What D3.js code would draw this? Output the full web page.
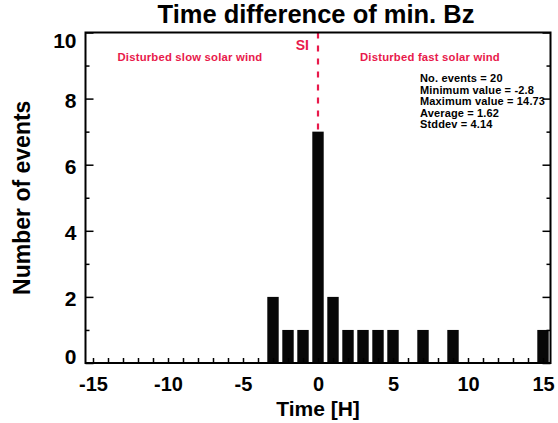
<!DOCTYPE html>
<html>
<head>
<meta charset="utf-8">
<script src="https://cdn.jsdelivr.net/npm/d3@7"></script>
<style>
  html, body { margin: 0; padding: 0; background: #fff; }
  svg { display: block; font-family: "Liberation Sans", Arial, Helvetica, sans-serif; font-weight: bold; }
</style>
</head>
<body>
<svg id="chart" width="558" height="423"></svg>
<script>
// ---- data ----
const binCenters = [-3, -2, -1, 0, 1, 2, 3, 4, 5, 7, 9, 15];
const eventCounts = [2, 1, 1, 7, 2, 1, 1, 1, 1, 1, 1, 1];
const xTickValues = [-15, -10, -5, 0, 5, 10, 15];
const xMinorTicks = d3.range(-15, 16, 1);
const yTickValues = [0, 2, 4, 6, 8, 10];
const yMinorTicks = [1, 3, 5, 7, 9];
const statsLines = ["No. events = 20", "Minimum value = -2.8", "Maximum value = 14.73", "Average = 1.62", "Stddev = 4.14"];
const titleText = "Time difference of min. Bz";
const xLabel = "Time [H]";
const yLabel = "Number of events";
const siLabel = "SI";
const slowLabel = "Disturbed slow solar wind";
const fastLabel = "Disturbed fast solar wind";
const siPosition = 0;

// ---- layout ----
const svg = d3.select("#chart");
const pLeft = 85.5, pRight = 550.5, pTop = 32.5, pBottom = 363;
const red = "#e8194b";

const x = d3.scaleLinear().domain([-15.5, 15.5]).range([pLeft, pRight]);
const y = d3.scaleLinear().domain([0, 10]).range([pBottom, pTop]);
const barW = 0.76;

// SI dashed line (behind bars)
svg.append("line")
  .attr("x1", x(siPosition)).attr("x2", x(siPosition))
  .attr("y1", y(10)).attr("y2", y(6.9))
  .attr("stroke", red).attr("stroke-width", 2.2)
  .attr("stroke-dasharray", "6,7");

// bars
svg.append("g").selectAll("rect")
  .data(binCenters.map((c, i) => ({c, v: eventCounts[i]})))
  .join("rect")
  .attr("x", d => x(d.c - barW / 2))
  .attr("width", d => x(d.c + barW / 2) - x(d.c - barW / 2))
  .attr("y", d => y(d.v))
  .attr("height", d => y(0) - y(d.v))
  .attr("fill", "#070707");

// bottom axis ticks (minor, inward)
const xAxis = d3.axisBottom(x).tickValues(xMinorTicks).tickSize(-5).tickFormat("");
const gx = svg.append("g").attr("transform", `translate(0,${pBottom})`).call(xAxis);
gx.select(".domain").remove();
gx.selectAll(".tick line").attr("stroke", "#000").attr("stroke-width", 1.5);

// x tick labels
const xLab = d3.axisBottom(x).tickValues(xTickValues).tickSize(0).tickPadding(14).tickFormat(d3.format("d"));
const gxl = svg.append("g").attr("transform", `translate(0,${pBottom})`).call(xLab);
gxl.select(".domain").remove();
gxl.selectAll("text").attr("font-size", 20).attr("font-weight", "bold").attr("fill", "#000")
  .attr("font-family", "Liberation Sans, Arial, sans-serif").text(d => d < 0 ? "-" + Math.abs(d) : d);

// left axis
const yAxis = d3.axisLeft(y).tickValues(yTickValues).tickSize(-8).tickPadding(9).tickFormat(d3.format("d"));
const gy = svg.append("g").attr("transform", `translate(${pLeft},0)`).call(yAxis);
gy.select(".domain").remove();
gy.selectAll(".tick line").attr("stroke", "#000").attr("stroke-width", 1.5);
gy.selectAll("text").attr("font-size", 21).attr("font-weight", "bold").attr("fill", "#000")
  .attr("font-family", "Liberation Sans, Arial, sans-serif")
  .attr("dy", d => d === 0 ? "0em" : (d === 10 ? "0.72em" : "0.42em"));
const gyMin = svg.append("g").attr("transform", `translate(${pLeft},0)`)
  .call(d3.axisLeft(y).tickValues(yMinorTicks).tickSize(-4).tickFormat(""));
gyMin.select(".domain").remove();
gyMin.selectAll(".tick line").attr("stroke", "#000").attr("stroke-width", 1.5);

// right axis (ticks inward)
const gr = svg.append("g").attr("transform", `translate(${pRight},0)`)
  .call(d3.axisRight(y).tickValues(yTickValues).tickSize(-8).tickFormat(""));
gr.select(".domain").remove();
gr.selectAll(".tick line").attr("stroke", "#000").attr("stroke-width", 1.5);
const grMin = svg.append("g").attr("transform", `translate(${pRight},0)`)
  .call(d3.axisRight(y).tickValues(yMinorTicks).tickSize(-4).tickFormat(""));
grMin.select(".domain").remove();
grMin.selectAll(".tick line").attr("stroke", "#000").attr("stroke-width", 1.5);

// frame
svg.append("rect")
  .attr("x", pLeft).attr("y", pTop)
  .attr("width", pRight - pLeft).attr("height", pBottom - pTop)
  .attr("fill", "none").attr("stroke", "#000").attr("stroke-width", 2);

// title
svg.append("text").attr("x", 316).attr("y", 23).attr("text-anchor", "middle")
  .attr("font-size", 25.5).attr("fill", "#000").text(titleText);

// axis titles
svg.append("text").attr("x", x(0)).attr("y", 416).attr("text-anchor", "middle")
  .attr("font-size", 21).attr("fill", "#000").text(xLabel);
svg.append("text").attr("transform", `translate(30,${(pTop + pBottom) / 2}) rotate(-90)`)
  .attr("text-anchor", "middle").attr("font-size", 23).attr("fill", "#000").text(yLabel);

// annotations
svg.append("text").attr("x", 309).attr("y", 50).attr("text-anchor", "end")
  .attr("font-size", 14).attr("fill", red).text(siLabel);
svg.append("text").attr("x", 190).attr("y", 61).attr("text-anchor", "middle")
  .attr("font-size", 11.3).attr("letter-spacing", 0.2).attr("fill", red).text(slowLabel);
svg.append("text").attr("x", 430).attr("y", 61).attr("text-anchor", "middle")
  .attr("font-size", 11.3).attr("letter-spacing", 0.2).attr("fill", red).text(fastLabel);

// stats
svg.append("g").selectAll("text").data(statsLines).join("text")
  .attr("x", 420).attr("y", (d, i) => 82 + i * 11.5)
  .attr("font-size", 11).attr("letter-spacing", 0.15).attr("fill", "#000").text(d => d);
</script>
</body>
</html>
